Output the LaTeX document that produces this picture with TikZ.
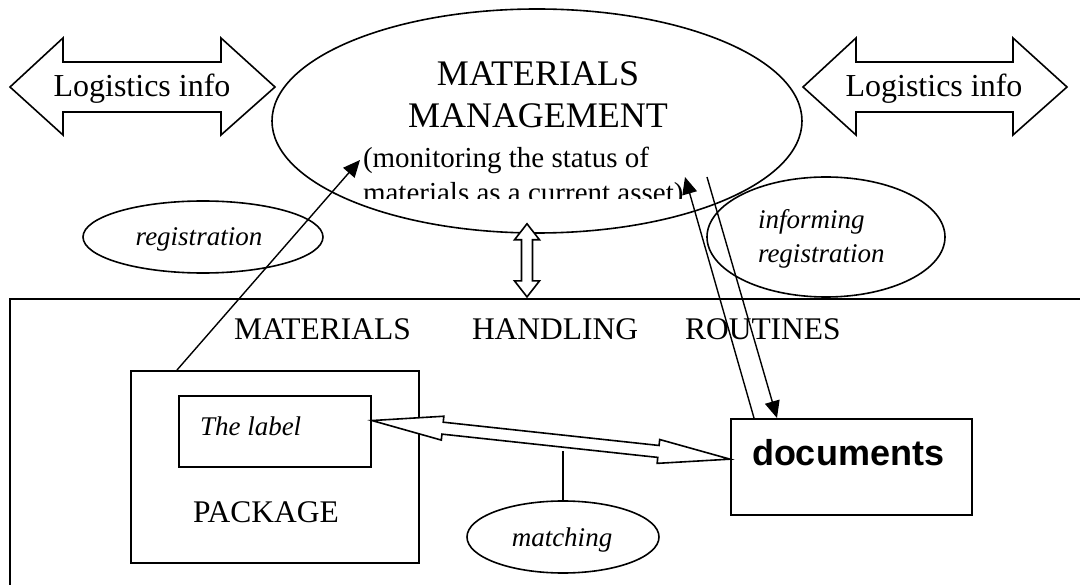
\documentclass[tikz,border=0pt]{standalone}
\usepackage{fontspec}
\setmainfont{Liberation Serif}
\newfontfamily\docsans{Liberation Sans}
\usetikzlibrary{shapes.geometric,calc,arrows.meta}
\tikzset{
  oval/.style={ellipse, draw, line width=1.6pt, inner sep=0pt},
  boxnode/.style={rectangle, draw, line width=2pt, inner sep=0pt},
  conn/.style={line width=1.4pt},
  tipend/.style={-{Triangle[length=17pt,width=15pt]}},
  hollow/.style={draw, line width=1.6pt, fill=white, line join=miter},
  txt/.style={inner sep=0pt, outer sep=0pt},
  bigfont/.style={txt, font=\fontsize{36}{42}\selectfont},
  monfont/.style={txt, font=\fontsize{29}{34}\selectfont},
  midfont/.style={txt, font=\fontsize{31.5}{36}\selectfont},
  logifont/.style={txt, font=\fontsize{32}{36}\selectfont},
  itfont/.style={txt, font=\fontsize{27}{32}\selectfont\itshape},
  docfont/.style={txt, font=\fontsize{36}{40}\selectfont\docsans\bfseries},
}
\begin{document}
\begin{tikzpicture}[x=1pt,y=-1pt]
\useasboundingbox (0,0) rectangle (1080,585);
\clip (0,0) rectangle (1080,585);

% big routines box
\node[boxnode, line width=2.2pt, minimum width=1080pt, minimum height=301pt] (mhr) at (550,449.5) {};
\node[midfont, anchor=base west] (mhr1) at (234,340) {MATERIALS};
\node[midfont, anchor=base west] (mhr2) at (472,340) {HANDLING};
\node[midfont, anchor=base west] (mhr3) at (685,340) {ROUTINES};

% logistics arrows
\draw[hollow] (10,87) -- (63,38) -- (63,62) -- (221,62) -- (221,38) -- (275,87)
  -- (221,135) -- (221,112) -- (63,112) -- (63,135) -- cycle;
\node[logifont, anchor=base] (li1) at (142,97) {Logistics info};
\draw[hollow] (803,87) -- (856,38) -- (856,62) -- (1013,62) -- (1013,38) -- (1067,87)
  -- (1013,135) -- (1013,112) -- (856,112) -- (856,135) -- cycle;
\node[logifont, anchor=base] (li2) at (934,97) {Logistics info};

% materials management ellipse
\node[oval, minimum width=530pt, minimum height=224pt] (mm) at (537,121) {};
\node[bigfont, anchor=base] (mmt1) at (538,86) {MATERIALS};
\node[bigfont, anchor=base] (mmt2) at (538,128) {MANAGEMENT};
\node[monfont, anchor=base west] (mon1) at (363,168) {(monitoring the status of};
\begin{scope}
  \clip (340,140) rectangle (740,199);
  \node[monfont, anchor=base west] (mon2) at (363,203) {materials as a current asset)};
\end{scope}

% registration ellipses
\node[oval, minimum width=240pt, minimum height=72pt] (reg) at (203,237) {};
\node[itfont, anchor=base] (regt) at (199,246) {registration};
\node[oval, minimum width=238pt, minimum height=120pt] (inf) at (826,237) {};
\node[itfont, anchor=base west] (inft1) at (758,229) {informing};
\node[itfont, anchor=base west] (inft2) at (758,263) {registration};

% package
\node[boxnode, minimum width=288pt, minimum height=192pt] (pkg) at (275,467) {};
\node[boxnode, minimum width=192pt, minimum height=71pt] (lab) at (275,431.5) {};
\node[itfont, anchor=base west] (labt) at (200,436) {The label};
\node[midfont, anchor=base] (pkgt) at (266,522) {PACKAGE};

% documents
\node[boxnode, minimum width=241pt, minimum height=96pt] (doc) at (851.5,467) {};
\node[docfont, anchor=base west] (doct) at (752,465) {documents};

% matching
\node[oval, minimum width=192pt, minimum height=72pt] (match) at (563,537) {};
\node[itfont, anchor=base] (matcht) at (562,546) {matching};

% connectors
\coordinate (regtip) at (360,160);
\draw[conn, tipend] ($(pkg.north west)+(47,0)$) -- (regtip);
\coordinate (infA) at (685,177);
\coordinate (infB) at (707,177);
\draw[conn, tipend] ($(doc.north west)+(24,0)$) -- (infA);
\draw[conn, tipend] (infB) -- ($(doc.north west)+(47,0)$);

\coordinate (mtop) at ($(match.north)+(0,-49)$);
\draw[conn] (match.north) -- (mtop);

% hollow double arrow label <-> documents
\coordinate (la) at ($(lab.north east)!0.35!(lab.south east)$);
\coordinate (da) at ($(doc.north west)!0.42!(doc.south west)$);
\draw[hollow] (la)
  -- ($(la)!71pt!(da)!12pt!90:(da)$)
  -- ($(la)!71pt!(da)!6pt!90:(da)$)
  -- ($(da)!72pt!(la)!6pt!-90:(la)$)
  -- ($(da)!72pt!(la)!12pt!-90:(la)$)
  -- (da)
  -- ($(da)!72pt!(la)!12pt!90:(la)$)
  -- ($(da)!72pt!(la)!6pt!90:(la)$)
  -- ($(la)!71pt!(da)!6pt!-90:(da)$)
  -- ($(la)!71pt!(da)!12pt!-90:(da)$)
  -- cycle;

% hollow vertical double arrow
\coordinate (vt) at ($(mm.south)+(-10,-10)$);
\coordinate (vb) at ($(mhr.north)+(-23,-1)$);
\draw[hollow] (vt)
  -- ($(vt)!16pt!(vb)!12.5pt!90:(vb)$)
  -- ($(vt)!16pt!(vb)!5.5pt!90:(vb)$)
  -- ($(vb)!16pt!(vt)!5.5pt!-90:(vt)$)
  -- ($(vb)!16pt!(vt)!12.5pt!-90:(vt)$)
  -- (vb)
  -- ($(vb)!16pt!(vt)!12.5pt!90:(vt)$)
  -- ($(vb)!16pt!(vt)!5.5pt!90:(vt)$)
  -- ($(vt)!16pt!(vb)!5.5pt!-90:(vb)$)
  -- ($(vt)!16pt!(vb)!12.5pt!-90:(vb)$)
  -- cycle;
\end{tikzpicture}
\end{document}
